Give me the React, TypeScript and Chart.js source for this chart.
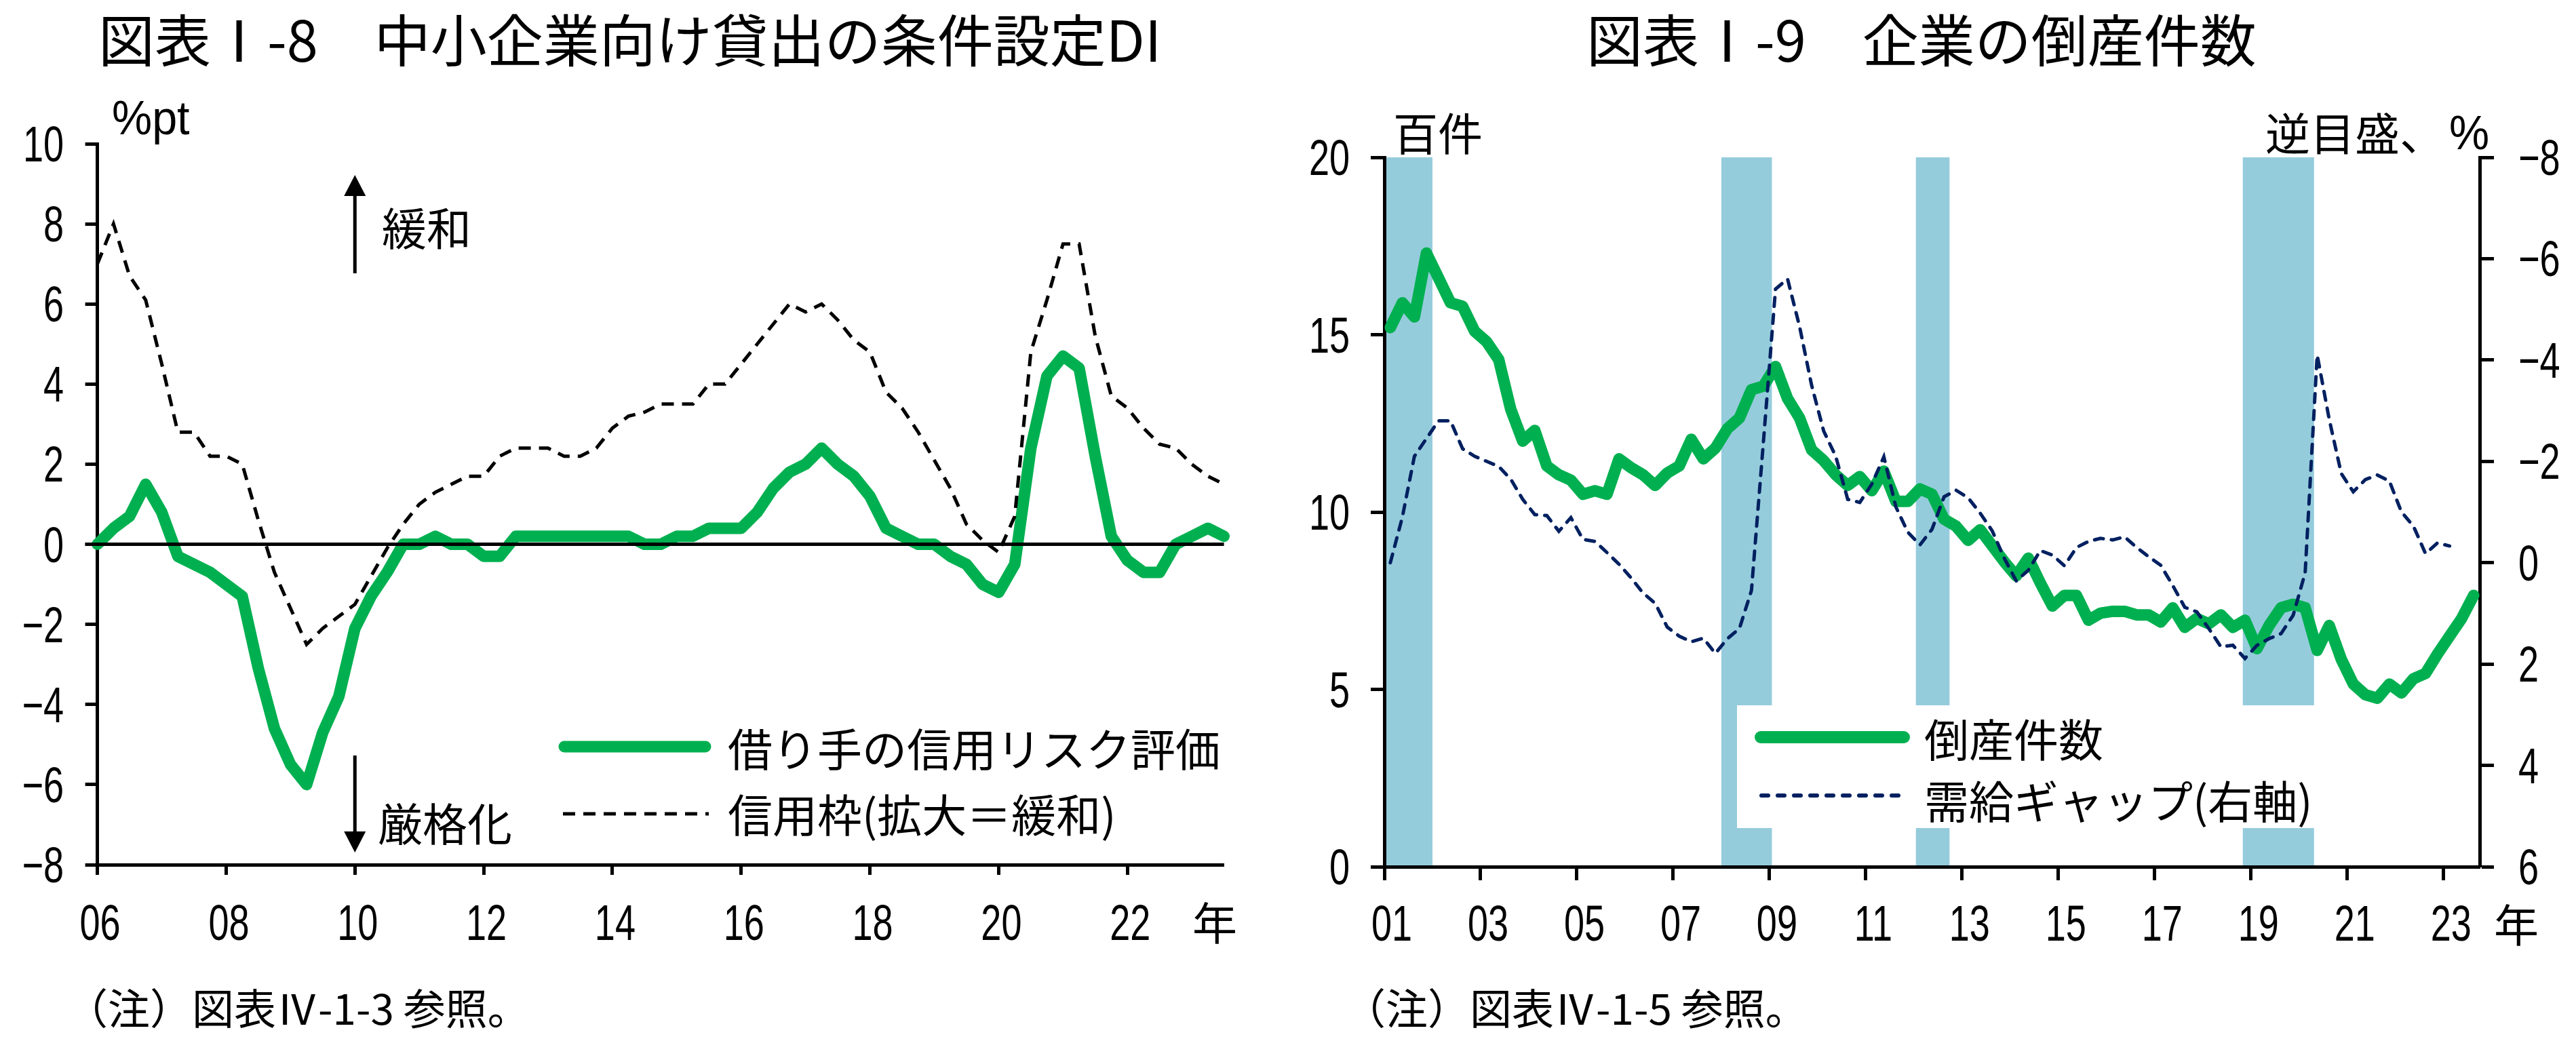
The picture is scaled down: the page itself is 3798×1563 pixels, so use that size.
import React, { useEffect, useRef } from 'react';
import { Chart, registerables } from 'chart.js';

Chart.register(...registerables);

const CJK = '"Noto Sans CJK JP", "Noto Sans CJK SC", sans-serif';
const NUM = '"Liberation Sans", Arial, sans-serif';
const NUM_SIZE = 74;
const NUM_SX = 0.73; // condensed digits like the reference
const GREEN = '#00B050';
const NAVY = '#002060';
const SHADE = '#95CCDC';

// ---------- 図表Ⅰ-8 中小企業向け貸出の条件設定DI (quarterly, 2006Q1 .. 2023Q3) ----------
const LEFT_FIRST = 2006.0;
const riskAssessment = [
  0.0, 0.4, 0.7, 1.5, 0.8, -0.3, -0.5, -0.7, -1.0, -1.3,
  -3.1, -4.6, -5.5, -6.0, -4.7, -3.8, -2.1, -1.3, -0.7, 0.0,
  0.0, 0.2, 0.0, 0.0, -0.3, -0.3, 0.2, 0.2, 0.2, 0.2,
  0.2, 0.2, 0.2, 0.2, 0.0, 0.0, 0.2, 0.2, 0.4, 0.4,
  0.4, 0.8, 1.4, 1.8, 2.0, 2.4, 2.0, 1.7, 1.2, 0.4,
  0.2, 0.0, 0.0, -0.3, -0.5, -1.0, -1.2, -0.5, 2.4, 4.2,
  4.7, 4.4, 2.2, 0.2, -0.4, -0.7, -0.7, 0.0, 0.2, 0.4,
  0.2,
];
const creditLine = [
  7.0, 8.0, 6.7, 6.1, 4.5, 2.8, 2.8, 2.2, 2.2, 2.0,
  0.6, -0.7, -1.6, -2.5, -2.1, -1.8, -1.5, -0.8, -0.1, 0.5,
  1.0, 1.3, 1.5, 1.7, 1.7, 2.2, 2.4, 2.4, 2.4, 2.2,
  2.2, 2.4, 2.9, 3.2, 3.3, 3.5, 3.5, 3.5, 4.0, 4.0,
  4.5, 5.0, 5.5, 6.0, 5.8, 6.0, 5.6, 5.1, 4.8, 3.8,
  3.4, 2.8, 2.1, 1.4, 0.5, 0.1, -0.2, 0.7, 4.8, 6.1,
  7.5, 7.5, 5.2, 3.7, 3.4, 2.9, 2.5, 2.4, 2.0, 1.7,
  1.5,
];
const leftYearTicks = [2006, 2008, 2010, 2012, 2014, 2016, 2018, 2020, 2022];
const leftLabels = ['借り手の信用リスク評価', '信用枠(拡大＝緩和)'];

// ---------- 図表Ⅰ-9 企業の倒産件数 (quarterly, 2001Q1 .. 2023Q3) ----------
const RIGHT_FIRST = 2001.125;
const bankruptcies = [
  15.2, 15.9, 15.5, 17.3, 16.6, 15.9, 15.8, 15.1, 14.8, 14.3,
  12.9, 12.0, 12.3, 11.3, 11.05, 10.9, 10.5, 10.6, 10.5, 11.5,
  11.25, 11.05, 10.75, 11.1, 11.3, 12.05, 11.5, 11.8, 12.35, 12.65,
  13.45, 13.55, 14.1, 13.2, 12.65, 11.75, 11.45, 11.05, 10.75, 11.0,
  10.6, 11.15, 10.3, 10.3, 10.65, 10.5, 9.8, 9.6, 9.2, 9.5,
  9.05, 8.6, 8.2, 8.7, 8.0, 7.35, 7.65, 7.65, 6.95, 7.15,
  7.2, 7.2, 7.1, 7.1, 6.9, 7.3, 6.75, 7.0, 6.85, 7.1,
  6.75, 6.95, 6.15, 6.8, 7.3, 7.4, 7.3, 6.1, 6.8, 5.85,
  5.15, 4.85, 4.75, 5.15, 4.9, 5.3, 5.45, 6.0, 6.5, 7.0,
  7.65,
];
const outputGap = [
  0.0, -0.9, -2.1, -2.45, -2.8, -2.8, -2.25, -2.1, -2.0, -1.9,
  -1.65, -1.25, -0.95, -0.93, -0.62, -0.89, -0.46, -0.42, -0.2, 0.03,
  0.3, 0.6, 0.8, 1.27, 1.45, 1.56, 1.49, 1.79, 1.5, 1.3,
  0.55, -2.4, -5.4, -5.6, -4.66, -3.5, -2.6, -2.1, -1.25, -1.19,
  -1.55, -2.09, -1.1, -0.6, -0.35, -0.66, -1.3, -1.43, -1.28, -0.98,
  -0.63, -0.09, 0.36, 0.15, -0.24, -0.15, 0.06, -0.3, -0.42, -0.48,
  -0.45, -0.51, -0.3, -0.12, 0.05, 0.45, 0.88, 0.97, 1.3, 1.66,
  1.63, 1.89, 1.63, 1.5, 1.4, 1.04, 0.2, -4.1, -2.83, -1.76,
  -1.4, -1.64, -1.73, -1.61, -1.0, -0.72, -0.18, -0.39, -0.33,
];
const recessionStart = [2001.0, 2008.0, 2012.04, 2018.83];
const recessionEnd = [2002.0, 2009.05, 2012.74, 2020.31];
const rightYearTicks = [2001, 2003, 2005, 2007, 2009, 2011, 2013, 2015, 2017, 2019, 2021, 2023];
const rightLabels = ['倒産件数', '需給ギャップ(右軸)'];

const toPoints = (start: number, vals: number[]) => vals.map((v, i) => ({ x: start + i * 0.25, y: v }));
const fmtNum = (v: number) => (v < 0 ? '\u2212' + Math.abs(v) : String(v));
const fmtYear = (v: number) => String(Math.round(v) % 100).padStart(2, '0');

function drawArrow(ctx: any, x: number, yFrom: number, yTip: number, headLen: number, headHalf: number) {
  const dir = Math.sign(yTip - yFrom);
  ctx.save();
  ctx.strokeStyle = '#000';
  ctx.fillStyle = '#000';
  ctx.lineWidth = 5;
  ctx.beginPath();
  ctx.moveTo(x, yFrom);
  ctx.lineTo(x, yTip - dir * headLen);
  ctx.stroke();
  ctx.beginPath();
  ctx.moveTo(x, yTip);
  ctx.lineTo(x - headHalf, yTip - dir * headLen);
  ctx.lineTo(x + headHalf, yTip - dir * headLen);
  ctx.closePath();
  ctx.fill();
  ctx.restore();
}

function text(ctx: any, s: string, x: number, y: number, font: string, align = 'left', sx = 1) {
  ctx.save();
  ctx.fillStyle = '#000';
  ctx.font = font;
  ctx.textAlign = align;
  ctx.textBaseline = 'alphabetic';
  ctx.translate(x, y);
  ctx.scale(sx, 1);
  ctx.fillText(s, 0, 0);
  ctx.restore();
}

const numText = (ctx: any, s: string, x: number, y: number, align = 'left') =>
  text(ctx, s, x, y, `${NUM_SIZE}px ${NUM}`, align, NUM_SX);

function legendLine(ctx: any, x1: number, x2: number, y: number, color: string, width: number, dash: number[], cap: string) {
  ctx.save();
  ctx.strokeStyle = color;
  ctx.lineWidth = width;
  ctx.lineCap = cap;
  ctx.setLineDash(dash);
  ctx.beginPath();
  ctx.moveTo(x1, y);
  ctx.lineTo(x2, y);
  ctx.stroke();
  ctx.restore();
}

// Tick labels drawn with condensed digits, positioned from the library's scales.
function drawXLabels(ctx: any, scale: any, offset: number, baseline: number) {
  scale.ticks.forEach((t: any) => numText(ctx, fmtYear(t.value), scale.getPixelForValue(t.value) + offset, baseline, 'center'));
}
function drawYLabels(ctx: any, scale: any, x: number, align: string) {
  scale.ticks.forEach((t: any) => numText(ctx, fmtNum(t.value), x, scale.getPixelForValue(t.value) + 26, align));
}

const gridOpts = (tl: number) => ({ drawOnChartArea: false, drawTicks: true, tickLength: tl, tickWidth: 5, tickColor: '#000' });
const borderOpts = { display: true, color: '#000', width: 5 };

function makeLeftConfig(): any {
  const decor = {
    id: 'leftDecor',
    afterDatasetsDraw(chart: any) {
      const { ctx, scales } = chart;
      const y0 = scales.y.getPixelForValue(0);
      ctx.save();
      ctx.strokeStyle = '#000';
      ctx.lineWidth = 5;
      ctx.beginPath();
      ctx.moveTo(scales.x.left - 18, y0);
      ctx.lineTo(scales.x.right, y0);
      ctx.stroke();
      ctx.restore();
    },
    afterDraw(chart: any) {
      const { ctx, scales } = chart;
      drawXLabels(ctx, scales.x, 4, 1386);
      drawYLabels(ctx, scales.y, 94, 'right');
      text(ctx, '図表Ⅰ-8　中小企業向け貸出の条件設定DI', 145, 91, `83px ${CJK}`);
      text(ctx, '%pt', 165, 198, `70px ${NUM}`, 'left', 0.95);
      const ax = scales.x.getPixelForValue(2010);
      drawArrow(ctx, ax, 403, 258, 31, 16);
      text(ctx, '緩和', 563, 362, `66px ${CJK}`);
      drawArrow(ctx, ax, 1114, 1257, 31, 16);
      text(ctx, '厳格化', 557, 1240, `66px ${CJK}`);
      legendLine(ctx, 832, 1040, 1101, GREEN, 17, [], 'round');
      legendLine(ctx, 830, 1045, 1200, '#000', 5, [18, 12], 'butt');
      text(ctx, leftLabels[0], 1073, 1130, `66px ${CJK}`);
      text(ctx, leftLabels[1], 1073, 1227, `66px ${CJK}`);
      text(ctx, '年', 1791, 1386, `66px ${CJK}`, 'center');
      text(ctx, '（注）図表Ⅳ-1-3 参照。', 97, 1511, `62px ${CJK}`);
    },
  };
  return {
    type: 'line',
    data: {
      datasets: [
        {
          label: leftLabels[0],
          data: toPoints(LEFT_FIRST, riskAssessment),
          borderColor: GREEN,
          borderWidth: 17,
          borderCapStyle: 'round',
          borderJoinStyle: 'round',
          pointRadius: 0,
          tension: 0,
          clip: false,
          order: 2,
        },
        {
          label: leftLabels[1],
          data: toPoints(LEFT_FIRST, creditLine),
          borderColor: '#000',
          borderWidth: 5,
          borderDash: [18, 12],
          pointRadius: 0,
          tension: 0,
          clip: false,
          order: 1,
        },
      ],
    },
    options: {
      responsive: false,
      animation: false,
      devicePixelRatio: 1,
      layout: { padding: { top: 212, right: 95.4, bottom: 0, left: 0 } },
      plugins: { legend: { display: false }, tooltip: { enabled: false }, title: { display: false } },
      scales: {
        x: {
          type: 'linear',
          min: 2006,
          max: 2023.5,
          afterBuildTicks: (s: any) => {
            s.ticks = leftYearTicks.map((v) => ({ value: v }));
          },
          afterFit: (s: any) => {
            s.height = 288;
          },
          grid: gridOpts(15),
          border: borderOpts,
          ticks: { display: false, autoSkip: false, maxRotation: 0 },
        },
        y: {
          type: 'linear',
          min: -8,
          max: 10,
          afterFit: (s: any) => {
            s.width = 143.6;
          },
          grid: gridOpts(18),
          border: borderOpts,
          ticks: { display: false, stepSize: 2 },
        },
      },
    },
    plugins: [decor],
  };
}

function makeRightConfig(): any {
  const decor = {
    id: 'rightDecor',
    beforeDraw(chart: any) {
      const { ctx, scales, chartArea } = chart;
      ctx.save();
      ctx.fillStyle = SHADE;
      recessionStart.forEach((s, i) => {
        const x1 = scales.x.getPixelForValue(s);
        const x2 = scales.x.getPixelForValue(recessionEnd[i]);
        ctx.fillRect(x1, chartArea.top, x2 - x1, chartArea.bottom - chartArea.top);
      });
      ctx.fillStyle = '#fff';
      ctx.fillRect(661, 1040, 884, 181);
      ctx.restore();
    },
    afterDraw(chart: any) {
      const { ctx, scales } = chart;
      drawXLabels(ctx, scales.x, 11, 1387);
      drawYLabels(ctx, scales.y, 90, 'right');
      drawYLabels(ctx, scales.y2, 1813, 'left');
      text(ctx, '図表Ⅰ-9　企業の倒産件数', 439, 91, `83px ${CJK}`);
      text(ctx, '百件', 154, 222, `66px ${CJK}`);
      text(ctx, '逆目盛、', 1440, 222, `66px ${CJK}`);
      text(ctx, '%', 1711, 220, `70px ${NUM}`, 'left', 0.95);
      legendLine(ctx, 696, 907, 1087, GREEN, 18, [], 'round');
      legendLine(ctx, 697, 907, 1173, NAVY, 6, [10, 14], 'round');
      text(ctx, rightLabels[0], 937, 1116, `66px ${CJK}`);
      text(ctx, rightLabels[1], 937, 1207, `66px ${CJK}`);
      text(ctx, '年', 1810, 1389, `66px ${CJK}`, 'center');
      text(ctx, '（注）図表Ⅳ-1-5 参照。', 81, 1511, `62px ${CJK}`);
    },
  };
  return {
    type: 'line',
    data: {
      datasets: [
        {
          label: rightLabels[0],
          data: toPoints(RIGHT_FIRST, bankruptcies),
          yAxisID: 'y',
          borderColor: GREEN,
          borderWidth: 17,
          borderCapStyle: 'round',
          borderJoinStyle: 'round',
          pointRadius: 0,
          tension: 0,
          clip: false,
          order: 2,
        },
        {
          label: rightLabels[1],
          data: toPoints(RIGHT_FIRST, outputGap),
          yAxisID: 'y2',
          borderColor: NAVY,
          borderWidth: 5,
          borderDash: [13, 12],
          borderCapStyle: 'round',
          pointRadius: 0,
          tension: 0,
          clip: false,
          order: 1,
        },
      ],
    },
    options: {
      responsive: false,
      animation: false,
      devicePixelRatio: 1,
      layout: { padding: { top: 232, right: 0, bottom: 0, left: 0 } },
      plugins: { legend: { display: false }, tooltip: { enabled: false }, title: { display: false } },
      scales: {
        x: {
          type: 'linear',
          min: 2001,
          max: 2023.75,
          afterBuildTicks: (s: any) => {
            s.ticks = rightYearTicks.map((v) => ({ value: v }));
          },
          afterFit: (s: any) => {
            s.height = 285;
          },
          grid: gridOpts(20),
          border: borderOpts,
          ticks: { display: false, autoSkip: false, maxRotation: 0 },
        },
        y: {
          type: 'linear',
          position: 'left',
          min: 0,
          max: 20,
          afterFit: (s: any) => {
            s.width = 141;
          },
          grid: gridOpts(20),
          border: borderOpts,
          ticks: { display: false, stepSize: 5 },
        },
        y2: {
          type: 'linear',
          position: 'right',
          min: -8,
          max: 6,
          reverse: true,
          afterFit: (s: any) => {
            s.width = 142;
          },
          grid: gridOpts(21),
          border: borderOpts,
          ticks: { display: false, stepSize: 2 },
        },
      },
    },
    plugins: [decor],
  };
}

function ChartCanvas({ make, left, width }: { make: () => any; left: number; width: number }) {
  const ref = useRef<HTMLCanvasElement>(null);
  useEffect(() => {
    const chart = new Chart(ref.current as HTMLCanvasElement, make());
    return () => chart.destroy();
  }, [make]);
  return (
    <canvas
      ref={ref}
      width={width}
      height={1563}
      style={{ position: 'absolute', left, top: 0, width, height: 1563, display: 'block' }}
    />
  );
}

export default function App() {
  return (
    <div style={{ position: 'absolute', left: 0, top: 0, width: 3798, height: 1563, background: '#fff', overflow: 'hidden' }}>
      <ChartCanvas make={makeLeftConfig} left={0} width={1900} />
      <ChartCanvas make={makeRightConfig} left={1900} width={1898} />
    </div>
  );
}
